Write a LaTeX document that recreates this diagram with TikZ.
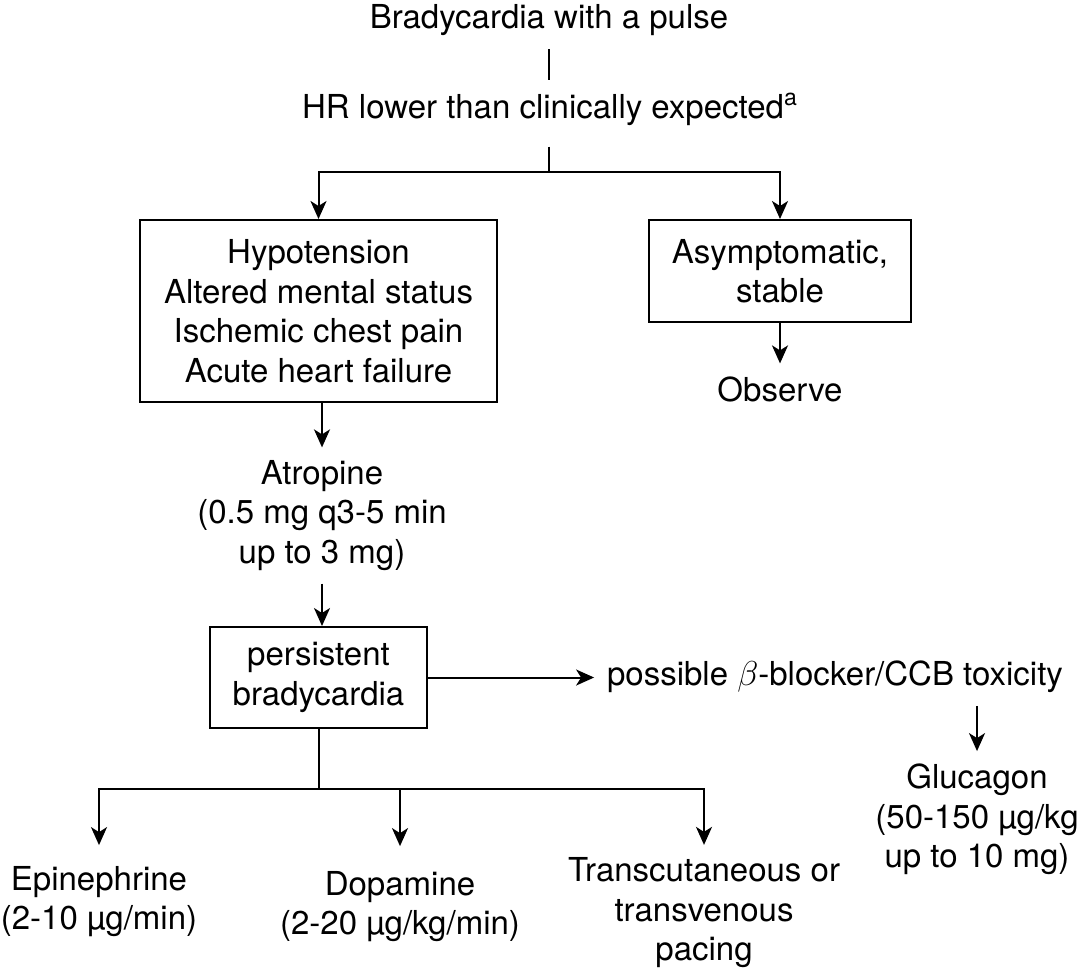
\documentclass[tikz,border=0pt]{standalone}
\usepackage{fontspec}
\setmainfont{TeX Gyre Heros}
\usetikzlibrary{arrows.meta}

\begin{document}
\begin{tikzpicture}[x=0.5pt,y=-0.5pt,
  font=\fontsize{16.5}{19.75}\selectfont, line width=1pt,
  txt/.style={align=center,inner sep=6pt},
  box/.style={draw,align=center,inner sep=0pt},
  arr/.style={-{Stealth[length=9pt,width=8pt,inset=2.5pt]}}]
\useasboundingbox (0,0) rectangle (1079,971);

\node[txt] (start) at (549,20.5) {Bradycardia with a pulse};
\node[txt] (hr) at (550,109.5) {HR lower than clinically expected\textsuperscript{a}};
\coordinate (fork) at (549,172);

\node[box,minimum width=178.5pt,minimum height=91pt] (sympt) at (318.5,311)
  {Hypotension\\Altered mental status\\Ischemic chest pain\\Acute heart failure};
\node[box,minimum width=131pt,minimum height=51pt] (asym) at (780,271)
  {Asymptomatic,\\stable};
\node[txt] (obs) at (780,389) {Observe};

\node[txt] (atro) at (322,515.5) {Atropine\\(0.5 mg q3-5 min\\up to 3 mg)};
\node[box,minimum width=108.5pt,minimum height=50.5pt] (persist) at (318.5,677.5)
  {persistent\\bradycardia};
\node[txt] (tox) at (835,677) {possible $\beta$-blocker/CCB toxicity};
\node[txt] (gluc) at (977,819.5) {Glucagon\\(50-150 µg/kg\\up to 10 mg)};

\coordinate (split) at (318.5,789);
\node[txt] (epi) at (99,901.5) {Epinephrine\\(2-10 µg/min)};
\node[txt] (dopa) at (400,906.5) {Dopamine\\(2-20 µg/kg/min)};
\node[txt] (pace) at (704,913) {Transcutaneous or\\transvenous\\pacing};

\draw (start.south) -- (start.south |- hr.north);
\draw[shorten <=4pt] (hr.south -| fork) -- (fork);
\draw[arr] (fork) -| (sympt);
\draw[arr] (fork) -| (asym);
\draw[arr] (asym) -- (obs);

\draw[arr] (sympt.south -| atro) -- (atro);
\draw[arr] (atro) -- (atro |- persist.north);
\draw[arr] (persist.east) -- (persist.east -| tox.west);
\draw[arr] (gluc |- tox.south) -- (gluc);

\draw (persist) -- (split);
\draw[arr,shorten >=4pt] (split) -| (epi);
\draw[arr,shorten >=6pt] (split) -| (dopa);
\draw[arr] (split) -| (pace);

\end{tikzpicture}
\end{document}
